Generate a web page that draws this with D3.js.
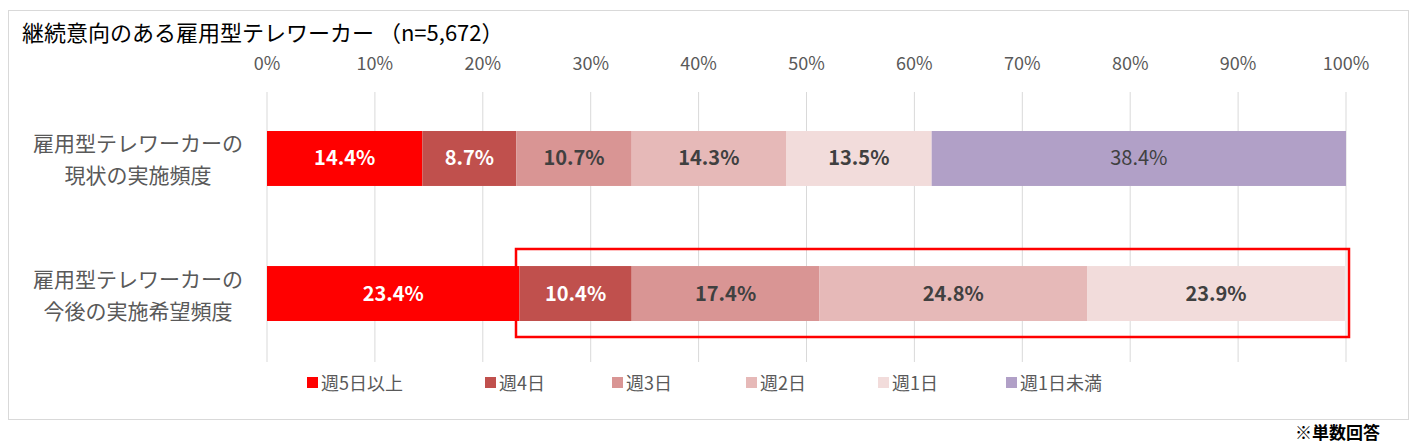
<!DOCTYPE html>
<html><head><meta charset="utf-8">
<script src="https://cdn.jsdelivr.net/npm/d3@7"></script>
<style>body{margin:0;background:#fff;font-family:"Noto Sans CJK JP",sans-serif;}</style>
</head><body>
<svg id="chart" width="1417" height="448"></svg>
<script>
// data
var categories = ['雇用型テレワーカーの\n現状の実施頻度', '雇用型テレワーカーの\n今後の実施希望頻度'];
var seriesNames = ['週5日以上', '週4日', '週3日', '週2日', '週1日', '週1日未満'];
var colors = ['#ff0000', '#c0504d', '#d99594', '#e6b9b8', '#f2dcdb', '#b1a0c7'];
var current = [14.4, 8.7, 10.7, 14.3, 13.5, 38.4];
var future = [23.4, 10.4, 17.4, 24.8, 23.9, 0];
var ticks = [0, 10, 20, 30, 40, 50, 60, 70, 80, 90, 100];
var values = [current, future];

var svg = d3.select('#chart');
var x = d3.scaleLinear().domain([0, 100]).range([267, 1346]);
var y = d3.scaleBand().domain(categories).range([104, 348]).paddingInner(0.593).paddingOuter(0.2);

svg.append('rect').attr('x', 8.5).attr('y', 10.5).attr('width', 1400).attr('height', 409)
  .attr('fill', 'none').attr('stroke', '#d9d9d9');

svg.append('text').attr('x', 22).attr('y', 41).attr('font-size', 22).attr('fill', '#000')
  .text('継続意向のある雇用型テレワーカー （n=5,672）');

// grid + tick labels
svg.selectAll('.grid').data(ticks).enter().append('line')
  .attr('x1', d => x(d)).attr('x2', d => x(d)).attr('y1', 92).attr('y2', 362)
  .attr('stroke', '#d9d9d9');
svg.selectAll('.tick').data(ticks).enter().append('text')
  .attr('x', d => x(d)).attr('y', 70).attr('text-anchor', 'middle')
  .attr('font-size', 18).attr('fill', '#595959').text(d => d + '%');

categories.forEach(function(cat, i) {
  var cum = 0;
  var g = svg.append('g');
  values[i].forEach(function(v, j) {
    if (!v) return;
    var x0 = x(cum), x1 = x(cum + v);
    cum += v;
    g.append('rect').attr('x', x0).attr('y', y(cat)).attr('width', x1 - x0)
      .attr('height', y.bandwidth()).attr('fill', colors[j]);
    g.append('text').attr('x', (x0 + x1) / 2).attr('y', y(cat) + y.bandwidth() / 2 + 7)
      .attr('text-anchor', 'middle').attr('font-size', 20)
      .attr('font-weight', j === 5 ? 'normal' : 'bold')
      .attr('fill', j < 2 ? '#fff' : '#404040').text(v.toFixed(1) + '%');
  });
  var lines = cat.split('\n');
  lines.forEach(function(l, k) {
    svg.append('text').attr('x', 138).attr('y', y(cat) + y.bandwidth() / 2 - 7 + k * 32)
      .attr('text-anchor', 'middle').attr('font-size', 21).attr('fill', '#595959').text(l);
  });
});

// highlight box
svg.append('rect').attr('x', 516).attr('y', 249).attr('width', 833).attr('height', 88)
  .attr('fill', 'none').attr('stroke', '#ff0000').attr('stroke-width', 2.5);

// legend
var legX = [307, 485, 612, 746, 878, 1006];
seriesNames.forEach(function(n, j) {
  svg.append('rect').attr('x', legX[j]).attr('y', 377).attr('width', 11).attr('height', 11).attr('fill', colors[j]);
  svg.append('text').attr('x', legX[j] + 14).attr('y', 390).attr('font-size', 18).attr('fill', '#595959').text(n);
});

svg.append('text').attr('x', 1380).attr('y', 439).attr('text-anchor', 'end').attr('font-size', 17)
  .attr('font-weight', 'bold').attr('fill', '#000').text('※単数回答');
</script>
</body></html>
